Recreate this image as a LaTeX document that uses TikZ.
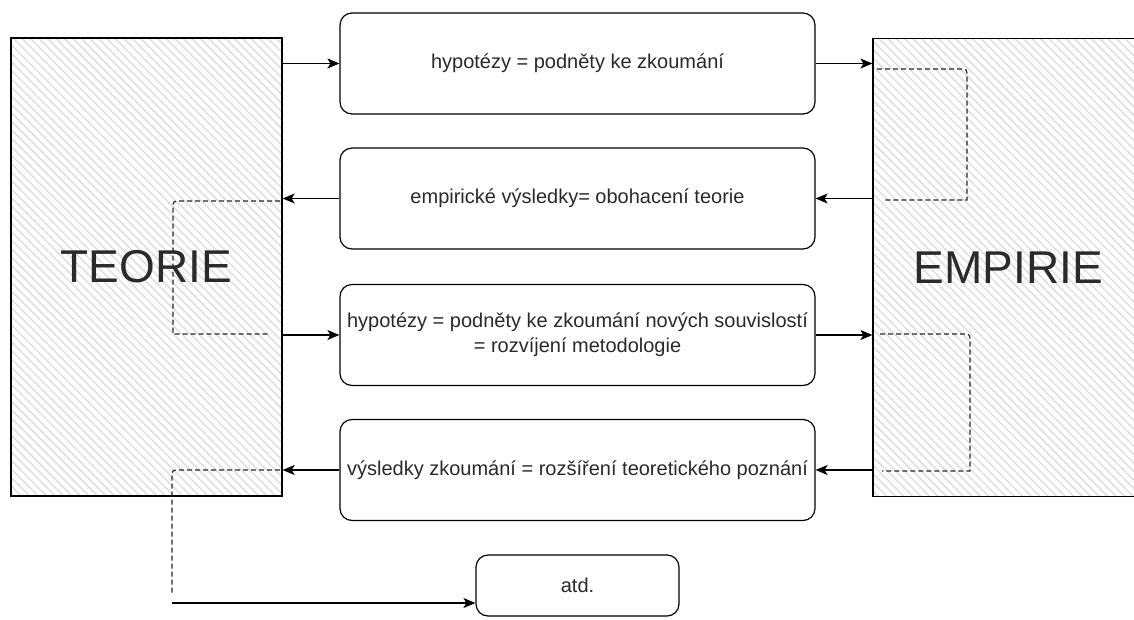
\documentclass[tikz,border=0pt]{standalone}
\usepackage{fontspec}
\setmainfont{Liberation Sans}
\usetikzlibrary{arrows.meta,patterns.meta}
\definecolor{txt}{HTML}{2A2A2A}
\begin{document}
\begin{tikzpicture}[x=1pt,y=-1pt,
  big/.style={draw=black, line width=1.2pt, rectangle, inner sep=0pt,
    minimum width=271pt, minimum height=458pt,
    pattern={Lines[angle=-45,distance=6pt,line width=1.3pt]}, pattern color=black!14,
    text=txt, font=\fontsize{46}{52}\selectfont},
  stage/.style={draw=black, line width=1.2pt, rounded corners=12pt, fill=white,
    minimum width=475pt, minimum height=101pt, inner sep=0pt, text=txt,
    font=\fontsize{20}{25}\selectfont, align=center},
  flow/.style={line width=1.2pt, -{Stealth[length=12pt,width=10pt,inset=3pt]}},
  loop/.style={line width=1.2pt, dash pattern=on 5pt off 3pt, draw=black!85}
]
\useasboundingbox (0,0) rectangle (1134,619);
\clip (0,0) rectangle (1134,619);

\node[big] (teo) at (146.5,267) {TEORIE};
\node[big] (emp) at (1008.5,267.5) {EMPIRIE};

\node[stage] (b1) at (577.5,63.5) {hypotézy = podněty ke zkoumání};
\node[stage] (b2) at (577.5,198.5) {empirické výsledky= obohacení teorie};
\node[stage] (b3) at (577.5,335) {hypotézy = podněty ke zkoumání nových souvislostí\\= rozvíjení metodologie};
\node[stage] (b4) at (577.5,470) {výsledky zkoumání = rozšíření teoretického poznání};
\node[stage, minimum width=203pt, minimum height=61pt] (atd) at (577.5,585.5) {atd.};

% dashed loops
\draw[loop] (877,69) -- (959,69) .. controls (967,69) .. (967,77) -- (967,200) -- (883,200);
\draw[loop] (280,201) -- (181,201) .. controls (173,201) .. (173,209) -- (173,334) -- (268,334);
\draw[loop] (880,334) -- (962,334) .. controls (970,334) .. (970,342) -- (970,471) -- (882,471);
\draw[loop] (280,470) -- (180,470) .. controls (172,470) .. (172,478) -- (172,593);

% solid connectors
\draw[flow] (teo.east |- b1.west) -- (b1.west);
\draw[flow] (b1.east) -- (emp.west |- b1.east);
\draw[flow] (emp.west |- b2.east) -- (b2.east);
\draw[flow] (b2.west) -- (teo.east |- b2.west);
\draw[flow] (teo.east |- b3.west) -- (b3.west);
\draw[flow] (b3.east) -- (emp.west |- b3.east);
\draw[flow] (emp.west |- b4.east) -- (b4.east);
\draw[flow] (b4.west) -- (teo.east |- b4.west);
\coordinate (c) at (172,603);
\draw[flow] (c) -- (atd.west |- c);
\end{tikzpicture}
\end{document}
